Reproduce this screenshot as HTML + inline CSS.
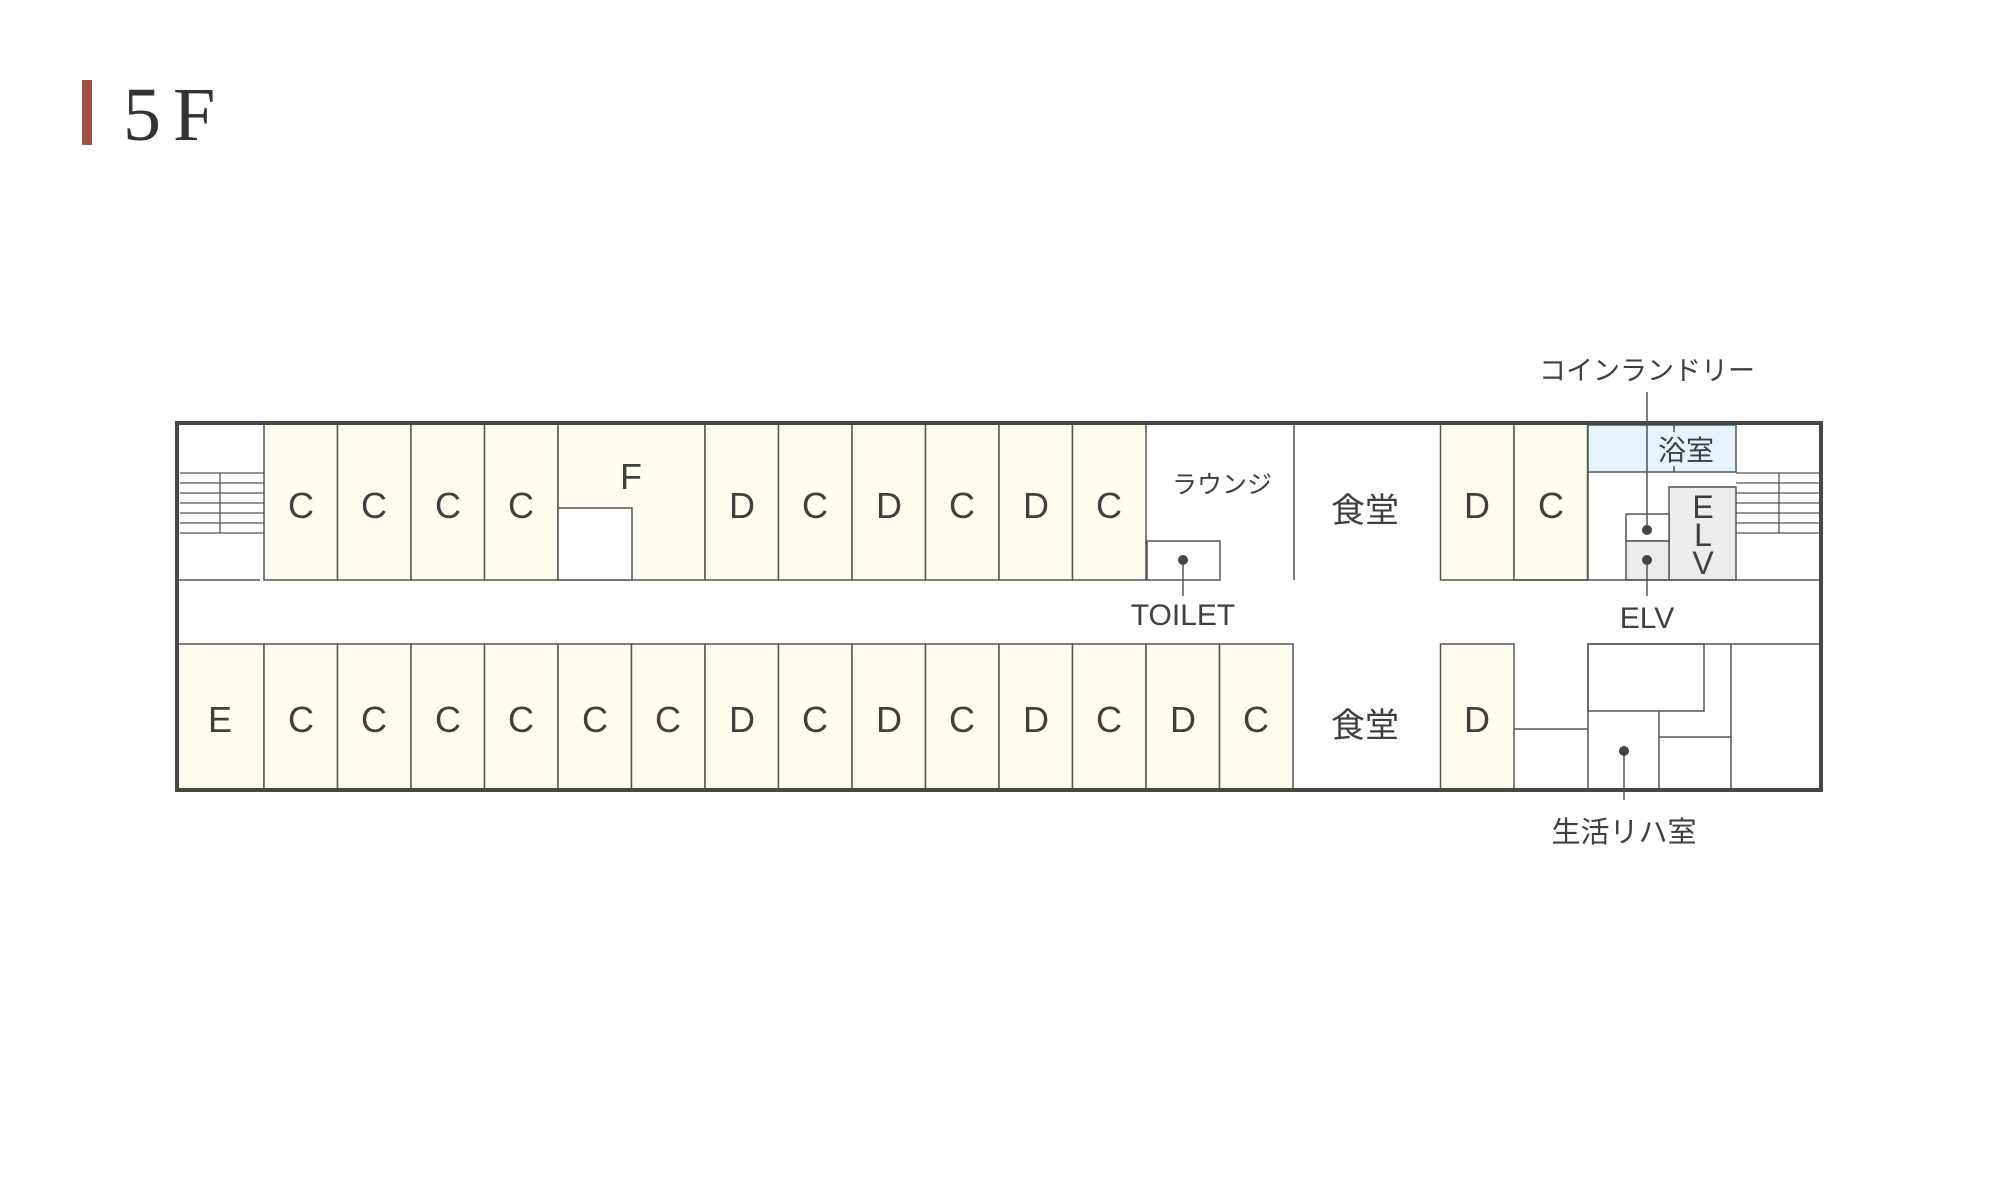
<!DOCTYPE html>
<html><head><meta charset="utf-8"><style>
html,body{margin:0;padding:0;background:#fff;}
svg{display:block}
text{font-family:"Liberation Sans","Noto Sans CJK JP",sans-serif;fill:#3f3f3f}
</style></head><body>
<svg width="2000" height="1200" viewBox="0 0 2000 1200" xmlns="http://www.w3.org/2000/svg">
<rect x="82" y="80" width="10" height="65" fill="#a0524a"/>
<text x="123" y="140" letter-spacing="12" style="font-family:'Liberation Serif',serif;font-size:76px;fill:#333">5F</text>

<g stroke="#555" stroke-width="1.5" fill="#fefdef">
<rect x="264" y="423" width="73.5" height="157"/>
<rect x="337.5" y="423" width="73.5" height="157"/>
<rect x="411" y="423" width="73.5" height="157"/>
<rect x="484.5" y="423" width="73.5" height="157"/>
<rect x="558" y="423" width="147" height="157"/>
<rect x="705" y="423" width="73.5" height="157"/>
<rect x="778.5" y="423" width="73.5" height="157"/>
<rect x="852" y="423" width="73.5" height="157"/>
<rect x="925.5" y="423" width="73.5" height="157"/>
<rect x="999" y="423" width="73.5" height="157"/>
<rect x="1072.5" y="423" width="73.5" height="157"/>
<rect x="1440.5" y="423" width="73.5" height="157"/>
<rect x="1514" y="423" width="73.5" height="157"/>
<rect x="177" y="644" width="87" height="146"/>
<rect x="264" y="644" width="73.5" height="146"/>
<rect x="337.5" y="644" width="73.5" height="146"/>
<rect x="411" y="644" width="73.5" height="146"/>
<rect x="484.5" y="644" width="73.5" height="146"/>
<rect x="558" y="644" width="73.5" height="146"/>
<rect x="631.5" y="644" width="73.5" height="146"/>
<rect x="705" y="644" width="73.5" height="146"/>
<rect x="778.5" y="644" width="73.5" height="146"/>
<rect x="852" y="644" width="73.5" height="146"/>
<rect x="925.5" y="644" width="73.5" height="146"/>
<rect x="999" y="644" width="73.5" height="146"/>
<rect x="1072.5" y="644" width="73.5" height="146"/>
<rect x="1146" y="644" width="73.5" height="146"/>
<rect x="1219.5" y="644" width="73.5" height="146"/>
<rect x="1440.5" y="644" width="73.5" height="146"/>
</g>
<g stroke="#555" stroke-width="1.5" fill="none">
<rect x="558" y="508" width="74" height="72" fill="#fff"/>
<rect x="1147" y="541" width="73" height="39" fill="#fff"/>
<line x1="1294" y1="423" x2="1294" y2="580"/>
<line x1="177" y1="580" x2="260" y2="580"/>
<rect x="1588" y="425" width="148" height="47" fill="#e6f3fc"/>
<rect x="1669" y="487" width="67" height="93" fill="#ececec"/>
<rect x="1626" y="514" width="43" height="27" fill="#fff"/>
<rect x="1626" y="541" width="43" height="39" fill="#ececec"/>
<line x1="1588" y1="472" x2="1588" y2="580"/>
<line x1="1514" y1="580" x2="1821" y2="580"/>
<g stroke-width="1.3">
<line x1="180" y1="473" x2="264" y2="473"/><line x1="180" y1="483" x2="264" y2="483"/><line x1="180" y1="493" x2="264" y2="493"/><line x1="180" y1="503" x2="264" y2="503"/><line x1="180" y1="513" x2="264" y2="513"/><line x1="180" y1="523" x2="264" y2="523"/><line x1="180" y1="533" x2="264" y2="533"/><line x1="220" y1="473" x2="220" y2="533"/>
<line x1="1736" y1="473" x2="1820" y2="473"/><line x1="1736" y1="483" x2="1820" y2="483"/><line x1="1736" y1="493" x2="1820" y2="493"/><line x1="1736" y1="503" x2="1820" y2="503"/><line x1="1736" y1="513" x2="1820" y2="513"/><line x1="1736" y1="523" x2="1820" y2="523"/><line x1="1736" y1="533" x2="1820" y2="533"/><line x1="1779" y1="473" x2="1779" y2="533"/>
</g>
<line x1="1514" y1="729" x2="1588" y2="729"/>
<line x1="1588" y1="644" x2="1821" y2="644"/>
<line x1="1588" y1="644" x2="1588" y2="790"/>
<rect x="1588" y="644" width="116" height="67"/>
<line x1="1659" y1="711" x2="1659" y2="790"/>
<line x1="1659" y1="737" x2="1731" y2="737"/>
<line x1="1731" y1="644" x2="1731" y2="790"/>
<line x1="1647" y1="392" x2="1647" y2="530"/>
<line x1="1647" y1="560" x2="1647" y2="596"/>
<line x1="1674" y1="425" x2="1674" y2="472"/>
<line x1="1183" y1="560" x2="1183" y2="596"/>
<line x1="1624" y1="751" x2="1624" y2="800"/>
</g>
<rect x="1658" y="432" width="58" height="34" fill="#e6f3fc"/>
<g fill="#444">
<circle cx="1647" cy="530" r="5"/><circle cx="1647" cy="560" r="5"/><circle cx="1183" cy="560" r="5"/><circle cx="1624" cy="751" r="5"/>
</g>
<rect x="177" y="423" width="1644" height="367" fill="none" stroke="#474747" stroke-width="4"/>

<g font-size="36" text-anchor="middle">
<text x="301" y="518">C</text><text x="374" y="518">C</text><text x="448" y="518">C</text><text x="521" y="518">C</text>
<text x="631" y="489">F</text>
<text x="742" y="518">D</text><text x="815" y="518">C</text><text x="889" y="518">D</text><text x="962" y="518">C</text><text x="1036" y="518">D</text><text x="1109" y="518">C</text>
<text x="1477" y="518">D</text><text x="1551" y="518">C</text>
<text x="220" y="732">E</text>
<text x="301" y="732">C</text><text x="374" y="732">C</text><text x="448" y="732">C</text><text x="521" y="732">C</text><text x="595" y="732">C</text><text x="668" y="732">C</text>
<text x="742" y="732">D</text><text x="815" y="732">C</text><text x="889" y="732">D</text><text x="962" y="732">C</text><text x="1036" y="732">D</text><text x="1109" y="732">C</text><text x="1183" y="732">D</text><text x="1256" y="732">C</text>
<text x="1477" y="732">D</text>
<text x="1703" y="518" font-size="32">E</text><text x="1703" y="546" font-size="32">L</text><text x="1703" y="574" font-size="32">V</text>
</g>
<g font-size="34" text-anchor="middle">
<text x="1365" y="522">食堂</text><text x="1365" y="737">食堂</text>
</g>
<g font-size="28" text-anchor="middle">
<text x="1222" y="493" font-size="25">ラウンジ</text>
<text x="1686" y="460">浴室</text>
<text x="1647" y="380" font-size="27">コインランドリー</text>
<text x="1647" y="628" font-size="30">ELV</text>
<text x="1183" y="625" font-size="30">TOILET</text>
<text x="1624" y="842" font-size="29">生活リハ室</text>
</g>
</svg>
</body></html>
